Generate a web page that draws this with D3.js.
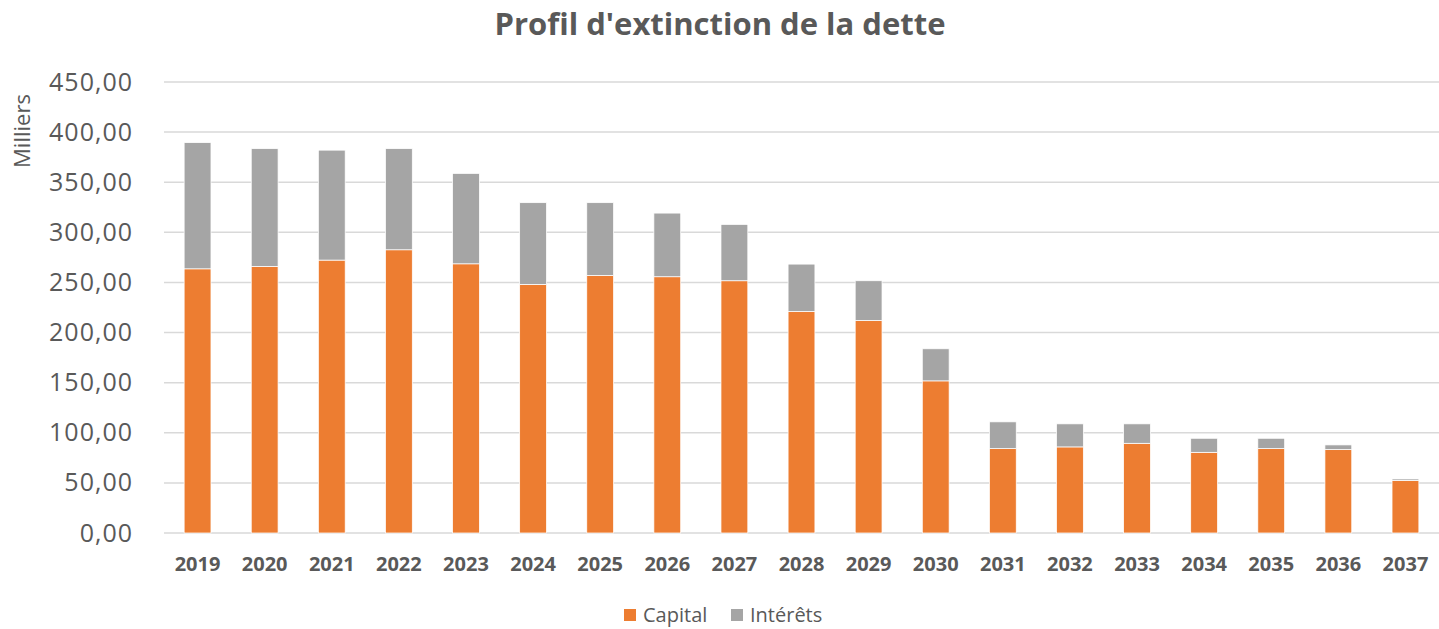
<!DOCTYPE html>
<html>
<head>
<meta charset="utf-8">
<script src="https://cdn.jsdelivr.net/npm/d3@7"></script>
<style>
  body { margin: 0; background: #fff; }
  text { font-family: "Open Sans", "DejaVu Sans", sans-serif; fill: #595959; }
</style>
</head>
<body>
<script>
// data (milliers)
var years = ["2019","2020","2021","2022","2023","2024","2025","2026","2027","2028",
             "2029","2030","2031","2032","2033","2034","2035","2036","2037"];
var capital = [263.6, 266.0, 272.3, 282.6, 268.6, 248.0, 257.0, 255.7, 251.7, 221.0,
               212.0, 151.8, 84.2, 85.9, 89.5, 80.5, 84.2, 83.2, 52.5];
var interets = [125.9, 117.5, 109.7, 100.9, 90.2, 81.6, 72.6, 63.5, 56.2, 47.3,
                39.7, 32.0, 26.7, 23.0, 19.4, 14.0, 10.3, 4.7, 1.4];
var yTicks = [0, 50, 100, 150, 200, 250, 300, 350, 400, 450];
var seriesNames = ["Capital", "Intérêts"];
var colors = ["#ED7D31", "#A5A5A5"];

var W = 1439, H = 629;
var margin = {top: 82, right: 0, bottom: 96, left: 164};
var width = W - margin.left - margin.right,
    height = H - margin.top - margin.bottom;

var svg = d3.select("body").append("svg")
    .attr("width", W)
    .attr("height", H);

// title
svg.append("text")
    .attr("x", 720)
    .attr("y", 35)
    .attr("text-anchor", "middle")
    .style("font-size", "31px")
    .style("font-weight", "bold")
    .text("Profil d'extinction de la dette");

var g = svg.append("g")
    .attr("transform", "translate(" + margin.left + "," + margin.top + ")");

var x = d3.scaleBand().domain(years).range([0, width])
    .paddingInner(0.6).paddingOuter(0.3);
var y = d3.scaleLinear().domain([0, 450]).range([height, 0]);

// gridlines
g.append("g")
    .selectAll("line")
    .data(yTicks)
    .enter().append("line")
    .attr("x1", 0)
    .attr("x2", width)
    .attr("y1", function(d) { return y(d); })
    .attr("y2", function(d) { return y(d); })
    .style("stroke", "#d9d9d9")
    .style("stroke-width", 1.5);

// y axis labels
var yAxis = g.append("g")
    .call(d3.axisLeft(y).tickValues(yTicks).tickSize(0).tickPadding(31)
        .tickFormat(function(d) { return d3.format(".2f")(d).replace(".", ","); }));
yAxis.select(".domain").remove();
yAxis.selectAll("text").style("font-size", "25px").style("fill", "#595959")
    .style("letter-spacing", "1px")
    .style("font-family", "'Open Sans', sans-serif");

// x axis labels
var xAxis = g.append("g")
    .attr("transform", "translate(0," + height + ")")
    .call(d3.axisBottom(x).tickSize(0).tickPadding(24));
xAxis.select(".domain").remove();
xAxis.selectAll("text").style("font-size", "20px").style("font-weight", "bold")
    .style("fill", "#595959").style("font-family", "'Open Sans', sans-serif");

// stacked bars
var rows = years.map(function(yr, i) {
    return {year: yr, Capital: capital[i], "Intérêts": interets[i]};
});
var stack = d3.stack().keys(seriesNames)(rows);

g.append("g")
    .selectAll("g")
    .data(stack)
    .enter().append("g")
    .attr("fill", function(d, i) { return colors[i]; })
    .selectAll("rect")
    .data(function(d) { return d; })
    .enter().append("rect")
    .attr("x", function(d) { return x(d.data.year); })
    .attr("y", function(d) { return y(d[1]); })
    .attr("height", function(d) { return y(d[0]) - y(d[1]); })
    .attr("width", x.bandwidth())
    .style("stroke", "#fff")
    .style("stroke-width", 0.75);

// y axis title
svg.append("text")
    .attr("transform", "translate(30,131) rotate(-90)")
    .attr("text-anchor", "middle")
    .style("font-size", "22px")
    .text("Milliers");

// legend
var legend = svg.append("g").attr("transform", "translate(624,609)");
var items = [{name: "Capital", x: 0}, {name: "Intérêts", x: 107}];
items.forEach(function(it, i) {
    legend.append("rect")
        .attr("x", it.x)
        .attr("y", 0)
        .attr("width", 12)
        .attr("height", 12)
        .attr("fill", colors[i]);
    legend.append("text")
        .attr("x", it.x + 19)
        .attr("y", 13)
        .style("font-size", "20px")
        .text(it.name);
});
</script>
</body>
</html>
